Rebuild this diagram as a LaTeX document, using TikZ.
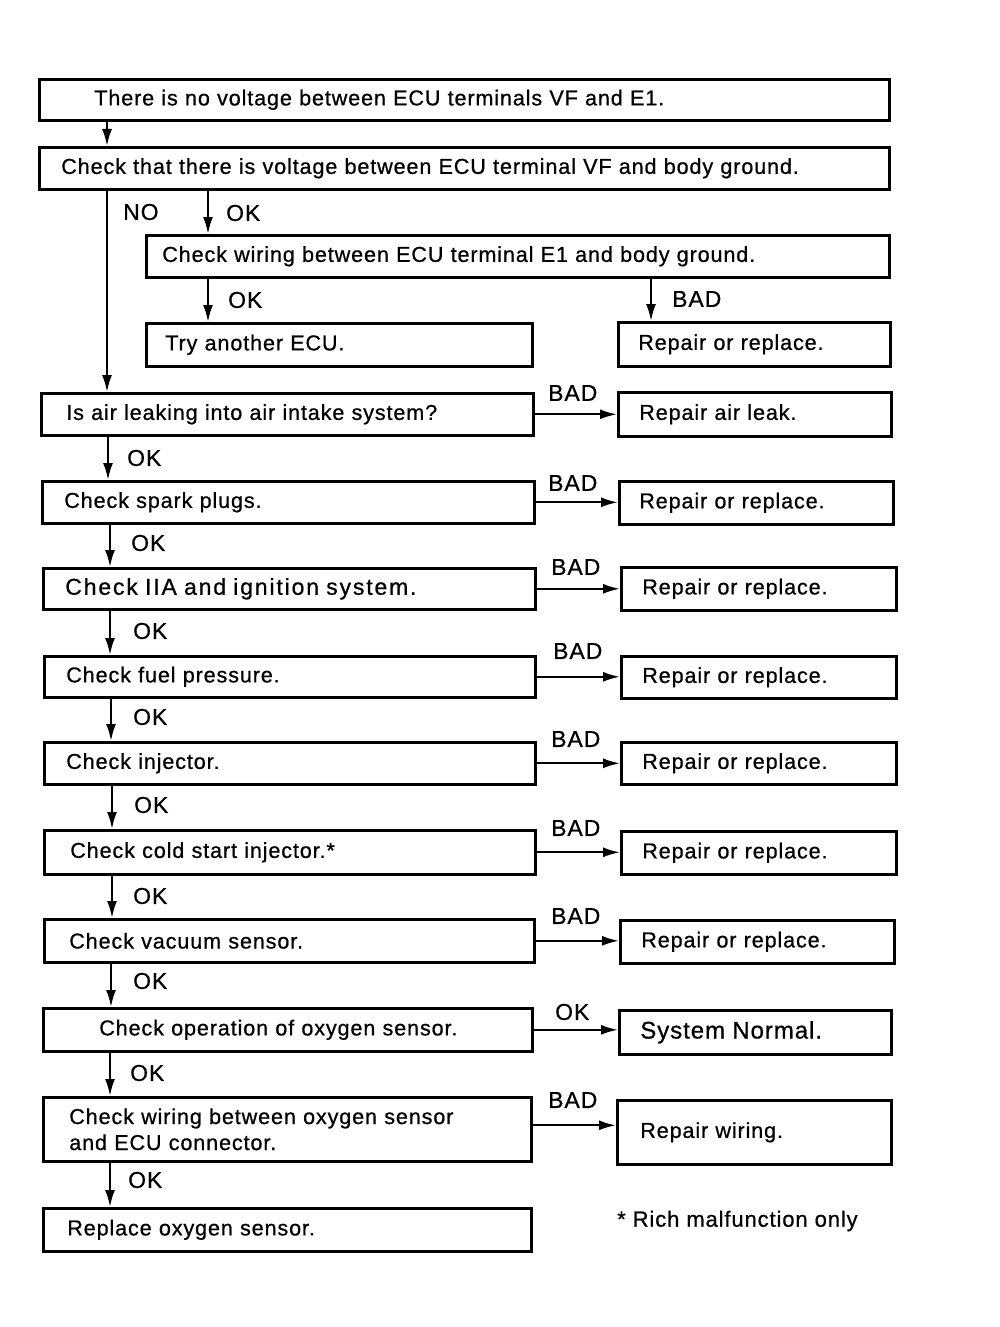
\documentclass[tikz,border=0pt]{standalone}
\usepackage{fontspec}
\setmainfont{Liberation Sans}[LetterSpace=4, FakeBold=0.7]
\usetikzlibrary{arrows.meta}
\tikzset{
  box/.style={draw, line width=2.6pt, anchor=north west, align=left, inner ysep=0pt,
    font=\fontsize{21.6}{26}\selectfont},
  lbl/.style={anchor=west, inner sep=0pt, font=\fontsize{23}{26}\selectfont},
  arr/.style={line width=2.2pt, -{Latex[length=17pt,width=10pt]}}
}
\newcommand{\bx}[7]{% name, x1, y1, x2, y2, offset, text
  \pgfmathsetmacro{\bw}{#4-#2}\pgfmathsetmacro{\bh}{#5-#3}\pgfmathsetmacro{\tw}{#4-#2-2*#6}
  \node[box, minimum width=\bw pt, minimum height=\bh pt, text width=\tw pt, inner xsep=#6pt] (#1) at (#2,#3) {#7};}
\begin{document}
\begin{tikzpicture}[x=1pt,y=-1pt]
\useasboundingbox (0,0) rectangle (999,1327);
\fill[white] (0,0) rectangle (999,1327);
\bx{b1}{38}{78}{888}{119}{55}{There is no voltage between ECU terminals VF and E1.}
\bx{b2}{38}{146}{888}{188}{22}{Check that there is voltage between ECU terminal VF and body ground.}
\bx{b3}{145}{234}{888}{276}{16}{Check wiring between ECU terminal E1 and body ground.}
\bx{b4}{145}{322}{531}{365}{19}{Try another ECU.}
\bx{b5}{617}{321}{889}{365}{20}{Repair or replace.}
\bx{l1}{40}{392}{532}{434}{25}{Is air leaking into air intake system?}
\bx{r1}{617}{391}{890}{435}{21}{Repair air leak.}
\bx{l2}{41}{480}{533}{522}{22}{Check spark plugs.}
\bx{r2}{618}{480}{892}{523}{20}{Repair or replace.}
\bx{l3}{42}{567}{534}{608}{22}{\fontsize{23}{26}\selectfont\addfontfeature{LetterSpace=8}Check IIA and ignition system.}
\bx{r3}{620}{566}{895}{609}{21}{Repair or replace.}
\bx{l4}{43}{655}{534}{696}{22}{Check fuel pressure.}
\bx{r4}{620}{655}{895}{697}{21}{Repair or replace.}
\bx{l5}{43}{741}{534}{783}{22}{Check injector.}
\bx{r5}{620}{741}{895}{783}{21}{Repair or replace.}
\bx{l6}{43}{829}{534}{873}{26}{Check cold start injector.*}
\bx{r6}{620}{830}{895}{873}{21}{Repair or replace.}
\bx{l7}{43}{918}{533}{961}{25}{Check vacuum sensor.}
\bx{r7}{619}{919}{893}{962}{21}{Repair or replace.}
\bx{l8}{42}{1007}{531}{1050}{56}{Check operation of oxygen sensor.}
\bx{r8}{618}{1009}{890}{1053}{21}{\fontsize{24}{26}\selectfont System Normal.}
\bx{l9}{42}{1096}{530}{1160}{26}{Check wiring between oxygen sensor\\and ECU connector.}
\bx{r9}{616}{1099}{890}{1163}{23}{Repair wiring.}
\bx{l10}{42}{1207}{530}{1250}{24}{Replace oxygen sensor.}
\node[lbl, font=\fontsize{22}{26}\selectfont] (fn) at (617,1221) {* Rich malfunction only};
% x positions
\coordinate (xa) at (107,0);
\coordinate (xb) at (208,0);
\coordinate (xc) at (651,0);
\coordinate (x8) at (108,0);
\coordinate (x10) at (110,0);
\coordinate (x11) at (111,0);
\coordinate (x12) at (112,0);
% vertical arrows
\draw[arr] (b1.south -| xa) -- (b2.north -| xa);
\draw[arr] (b2.south -| xa) -- (l1.north -| xa);
\draw[arr] (b2.south -| xb) -- (b3.north -| xb);
\draw[arr] (b3.south -| xb) -- (b4.north -| xb);
\draw[arr] (b3.south -| xc) -- (b5.north -| xc);
\draw[arr] (l1.south -| x8) -- (l2.north -| x8);
\draw[arr] (l2.south -| x10) -- (l3.north -| x10);
\draw[arr] (l3.south -| x10) -- (l4.north -| x10);
\draw[arr] (l4.south -| x11) -- (l5.north -| x11);
\draw[arr] (l5.south -| x12) -- (l6.north -| x12);
\draw[arr] (l6.south -| x12) -- (l7.north -| x12);
\draw[arr] (l7.south -| x11) -- (l8.north -| x11);
\draw[arr] (l8.south -| x10) -- (l9.north -| x10);
\draw[arr] (l9.south -| x10) -- (l10.north -| x10);
% horizontal arrows
\draw[arr] (l1.east) -- (l1.east -| r1.west);
\draw[arr] (l2.east) -- (l2.east -| r2.west);
\draw[arr] (l3.east) -- (l3.east -| r3.west);
\draw[arr] (l4.east) -- (l4.east -| r4.west);
\draw[arr] (l5.east) -- (l5.east -| r5.west);
\draw[arr] (l6.east) -- (l6.east -| r6.west);
\draw[arr] (l7.east) -- (l7.east -| r7.west);
\draw[arr] (l8.east) -- (l8.east -| r8.west);
\draw[arr] ([yshift=4pt]l9.east) -- ([yshift=4pt]l9.east -| r9.west);
% labels
\node[lbl] (tNO) at (123,212) {NO};
\node[lbl] (tok1) at (226,213) {OK};
\node[lbl] (tok2) at (228,300) {OK};
\node[lbl] (tbad0) at (672,299) {BAD};
\node[lbl] (tok3) at (127,458) {OK};
\node[lbl] (tok4) at (131,543) {OK};
\node[lbl] (tok5) at (133,631) {OK};
\node[lbl] (tok6) at (133,717) {OK};
\node[lbl] (tok7) at (134,805) {OK};
\node[lbl] (tok8) at (133,896) {OK};
\node[lbl] (tok9) at (133,981) {OK};
\node[lbl] (tok10) at (130,1073) {OK};
\node[lbl] (tok11) at (128,1180) {OK};
\node[lbl] (tokh) at (555,1012) {OK};
\node[lbl] (tbad1) at (548,393) {BAD};
\node[lbl] (tbad2) at (548,483) {BAD};
\node[lbl] (tbad3) at (551,567) {BAD};
\node[lbl] (tbad4) at (553,651) {BAD};
\node[lbl] (tbad5) at (551,739) {BAD};
\node[lbl] (tbad6) at (551,828) {BAD};
\node[lbl] (tbad7) at (551,916) {BAD};
\node[lbl] (tbad8) at (548,1100) {BAD};
\end{tikzpicture}
\end{document}
